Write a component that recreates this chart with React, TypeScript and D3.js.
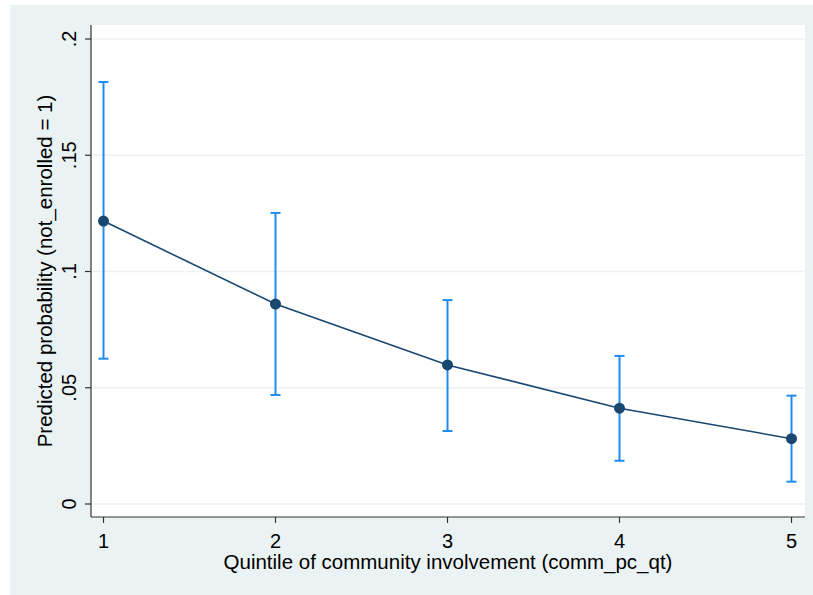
import React from "react";
import * as d3 from "d3";

const quintiles = [1, 2, 3, 4, 5];
const predicted = [0.1217, 0.086, 0.0598, 0.0412, 0.0281];
const ciLower = [0.0625, 0.0469, 0.0314, 0.0186, 0.0096];
const ciUpper = [0.1815, 0.1252, 0.0877, 0.0637, 0.0466];
const yTicks = [0, 0.05, 0.1, 0.15, 0.2];
const yTickLabels = ["0", ".05", ".1", ".15", ".2"];

const W = 813;
const H = 595;
const plot = { left: 91, right: 805, top: 25, bottom: 517 };

const font = "'Liberation Sans', Arial, Helvetica, sans-serif";
const bg = "#EAF2F3";
const navy = "#1A476F";
const ciBlue = "#1E8CF0";

export default function App() {
  const x = d3.scaleLinear().domain([1, 5]).range([103.5, 791.5]);
  const y = d3.scaleLinear().domain([0, 0.2]).range([504, 39]);

  const line = d3
    .line<number>()
    .x((_, i) => x(quintiles[i]))
    .y((d) => y(d));

  const cap = 5;

  return (
    <svg
      width={W}
      height={H}
      style={{ position: "absolute", left: 0, top: 0, display: "block" }}
      fontFamily={font}
    >
      <rect x={0} y={0} width={W} height={H} fill="#ffffff" />
      <rect x={10} y={5} width={W - 10} height={H - 5} fill={bg} />
      <rect
        x={plot.left}
        y={plot.top}
        width={plot.right - plot.left}
        height={plot.bottom - plot.top}
        fill="#ffffff"
      />

      {/* horizontal grid */}
      {yTicks.map((t) => (
        <line
          key={"g" + t}
          x1={plot.left}
          x2={plot.right}
          y1={y(t)}
          y2={y(t)}
          stroke={bg}
          strokeWidth={1.5}
        />
      ))}

      {/* confidence intervals */}
      {quintiles.map((q, i) => (
        <g key={"ci" + q} stroke={ciBlue} strokeWidth={2}>
          <line x1={x(q)} x2={x(q)} y1={y(ciLower[i])} y2={y(ciUpper[i])} />
          <line x1={x(q) - cap} x2={x(q) + cap} y1={y(ciLower[i])} y2={y(ciLower[i])} />
          <line x1={x(q) - cap} x2={x(q) + cap} y1={y(ciUpper[i])} y2={y(ciUpper[i])} />
        </g>
      ))}

      {/* predicted probability line and markers */}
      <path d={line(predicted) || ""} fill="none" stroke={navy} strokeWidth={1.6} />
      {quintiles.map((q, i) => (
        <circle key={"p" + q} cx={x(q)} cy={y(predicted[i])} r={5.5} fill={navy} />
      ))}

      {/* axes */}
      <line x1={plot.left} x2={plot.left} y1={plot.top} y2={plot.bottom} stroke="#333" strokeWidth={1.2} />
      <line x1={plot.left} x2={plot.right} y1={plot.bottom} y2={plot.bottom} stroke="#333" strokeWidth={1.2} />

      {yTicks.map((t, i) => (
        <g key={"yt" + t}>
          <line x1={plot.left - 6} x2={plot.left} y1={y(t)} y2={y(t)} stroke="#333" strokeWidth={1.2} />
          <text
            transform={`translate(${76},${y(t)}) rotate(-90)`}
            textAnchor="middle"
            fontSize={20}
            fill="#000"
          >
            {yTickLabels[i]}
          </text>
        </g>
      ))}

      {quintiles.map((q) => (
        <g key={"xt" + q}>
          <line x1={x(q)} x2={x(q)} y1={plot.bottom} y2={plot.bottom + 6} stroke="#333" strokeWidth={1.2} />
          <text x={x(q)} y={548} textAnchor="middle" fontSize={20} fill="#000">
            {q}
          </text>
        </g>
      ))}

      <text x={(plot.left + plot.right) / 2} y={569} textAnchor="middle" fontSize={20.5} fill="#000">
        Quintile of community involvement (comm_pc_qt)
      </text>
      <text
        transform={`translate(${52},${(plot.top + plot.bottom) / 2}) rotate(-90)`}
        textAnchor="middle"
        fontSize={20.5}
        fill="#000"
      >
        Predicted probability (not_enrolled = 1)
      </text>
    </svg>
  );
}
